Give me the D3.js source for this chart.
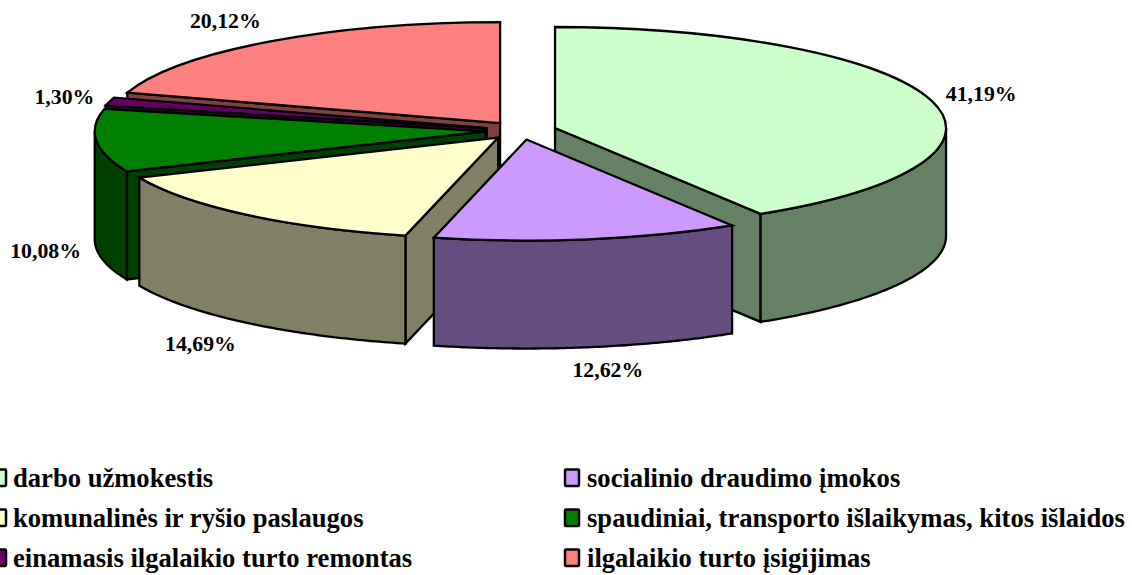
<!DOCTYPE html>
<html>
<head>
<meta charset="utf-8">
<script src="https://cdn.jsdelivr.net/npm/d3@7"></script>
<style>
  html, body { margin: 0; padding: 0; background: #fff; }
  svg { display: block; }
  text { font-family: "Liberation Serif", serif; font-weight: bold; fill: #000; }
</style>
</head>
<body>
<div id="chart"></div>
<script>
const categories = [
  "darbo užmokestis",
  "socialinio draudimo įmokos",
  "komunalinės ir ryšio paslaugos",
  "spaudiniai, transporto išlaikymas, kitos išlaidos",
  "einamasis ilgalaikio turto remontas",
  "ilgalaikio turto įsigijimas"
];
const values = [41.19, 12.62, 14.69, 10.08, 1.30, 20.12];
const colors = ["#ccffcc", "#cc99ff", "#ffffcc", "#008000", "#660066", "#ff8080"];

const width = 1132;
const height = 575;
const center = { x: 521, y: 130.5 };
const rx = 391;
const ry = 101;
const depth = 108;
const explode = 35.4;
const strokeW = 2.3;

// nudges on top of the computed label spot
const labelNudge = [[0, 1], [12, -3], [-12, 1], [1, 0], [5, 2], [-13, 0]];

const wallColor = c => {
  const { r, g, b } = d3.rgb(c);
  return d3.rgb(r / 2, g / 2, b / 2).formatHex();
};

// unit circle -> screen offsets
const xScale = d3.scaleLinear().domain([-1, 1]).range([-rx, rx]);
const yScale = d3.scaleLinear().domain([-1, 1]).range([ry, -ry]);

const slices = d3.pie().sort(null).value(d => d)(values).map((s, i) => {
  const mid = (s.startAngle + s.endAngle) / 2;
  return {
    ...s,
    i,
    mid,
    ox: center.x + explode * Math.sin(mid),
    oy: center.y - explode * (ry / rx) * Math.cos(mid)
  };
});

const rim = (s, a, z = 0) => [
  s.ox + xScale(Math.sin(a)),
  s.oy + yScale(Math.cos(a)) + z
];

const line = d3.line();

const radialWall = (s, a) => line([
  [s.ox, s.oy],
  rim(s, a),
  rim(s, a, depth),
  [s.ox, s.oy + depth]
]) + "Z";

const outerWall = s => {
  const a0 = Math.max(s.startAngle, Math.PI / 2);
  const a1 = Math.min(s.endAngle, Math.PI * 3 / 2);
  if (a1 <= a0) return null;
  const n = 80;
  const angles = d3.range(n + 1).map(k => a0 + (a1 - a0) * k / n);
  const top = angles.map(a => rim(s, a));
  const bottom = angles.slice().reverse().map(a => rim(s, a, depth));
  return line(top.concat(bottom)) + "Z";
};

const arc = d3.arc().innerRadius(0).outerRadius(rx);

const svg = d3.select("#chart").append("svg")
  .attr("width", width)
  .attr("height", height)
  .attr("viewBox", [0, 0, width, height]);

// back to front
const ordered = slices.slice().sort((a, b) => Math.cos(b.mid) - Math.cos(a.mid));

const gSlice = svg.append("g")
  .attr("stroke", "#000")
  .attr("stroke-width", strokeW)
  .attr("stroke-linejoin", "miter")
  .selectAll("g")
  .data(ordered)
  .join("g");

gSlice.each(function (s) {
  const g = d3.select(this);
  const wall = wallColor(colors[s.i]);
  if (Math.sin(s.startAngle) < -1e-6) {
    g.append("path").attr("d", radialWall(s, s.startAngle)).attr("fill", wall);
  }
  if (Math.sin(s.endAngle) > 1e-6) {
    g.append("path").attr("d", radialWall(s, s.endAngle)).attr("fill", wall);
  }
  const outer = outerWall(s);
  if (outer) g.append("path").attr("d", outer).attr("fill", wall);
  g.append("path")
    .attr("d", arc(s))
    .attr("transform", `translate(${s.ox},${s.oy}) scale(1,${ry / rx})`)
    .attr("vector-effect", "non-scaling-stroke")
    .attr("fill", colors[s.i]);
});

// data labels
const fmt = d3.format(".2f");
const labelHalfW = 35 + 17;
const labelHalfH = 9 + 17;
svg.append("g")
  .selectAll("text")
  .data(slices)
  .join("text")
  .attr("font-size", 21.8)
  .attr("text-anchor", "middle")
  .attr("dominant-baseline", "central")
  .attr("x", s => rim(s, s.mid)[0] + Math.sin(s.mid) * labelHalfW + labelNudge[s.i][0])
  .attr("y", s => {
    const wallDrop = Math.cos(s.mid) < 0 ? depth : 0;
    return rim(s, s.mid)[1] + wallDrop - Math.cos(s.mid) * labelHalfH + labelNudge[s.i][1];
  })
  .text(s => fmt(values[s.i]).replace(".", ",") + "%");

// legend
const legendX = d3.scaleOrdinal().domain([0, 1]).range([-8, 565]);
const legendY = d3.scaleOrdinal().domain([0, 1, 2]).range([478, 518, 558]);
const legend = svg.append("g")
  .selectAll("g")
  .data(categories)
  .join("g")
  .attr("transform", (d, i) => `translate(${legendX(i % 2)},${legendY(Math.floor(i / 2))})`);

legend.append("rect")
  .attr("x", 0)
  .attr("y", -8.5)
  .attr("width", 14)
  .attr("height", 16.5)
  .attr("rx", 1)
  .attr("fill", (d, i) => colors[i])
  .attr("stroke", "#000")
  .attr("stroke-width", 2.5);

legend.append("text")
  .attr("x", (d, i) => i % 2 ? 22 : 21)
  .attr("y", 9)
  .attr("font-size", 26.6)
  .text(d => d);
</script>
</body>
</html>
